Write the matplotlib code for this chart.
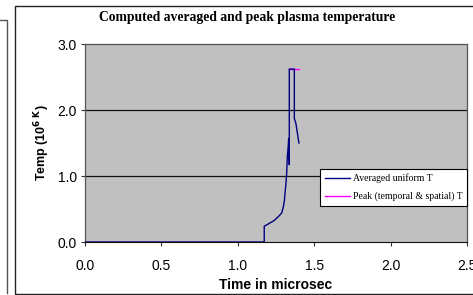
import matplotlib
matplotlib.use("Agg")
import matplotlib.pyplot as plt
from matplotlib.patches import Rectangle
from matplotlib.lines import Line2D

# averaged uniform temperature (10^6 K) vs time (microsec)
avg_time = [0.0, 1.173, 1.173, 1.19, 1.211, 1.235, 1.254, 1.272, 1.287, 1.298,
            1.305, 1.309, 1.315, 1.320, 1.324, 1.329, 1.333, 1.337, 1.337,
            1.345, 1.370, 1.370, 1.380, 1.400]
avg_temp = [0.0, 0.0, 0.24, 0.26, 0.29, 0.32, 0.36, 0.40, 0.44, 0.53,
            0.63, 0.74, 0.88, 1.04, 1.29, 1.42, 1.57, 1.17, 2.62,
            2.62, 2.62, 1.87, 1.80, 1.50]

# peak (temporal & spatial) temperature
peak_time = [1.337, 1.400]
peak_temp = [2.62, 2.62]

xticks = [0.0, 0.5, 1.0, 1.5, 2.0, 2.5]
yticks = [0.0, 1.0, 2.0, 3.0]

fig = plt.figure(figsize=(4.73, 2.95), dpi=100)
W, H = 473, 295

# outer chart frame and stray frame at the left
fig.patches.append(Rectangle((15 / W, 1 / H), 470 / W, 288 / H, transform=fig.transFigure,
                             fill=False, edgecolor="#222222", linewidth=1.0))
fig.lines.append(Line2D([0, 7 / W, 7 / W], [1 - 20 / H, 1 - 20 / H, 2 / H],
                        transform=fig.transFigure, color="#555555", linewidth=1.0))

ax = fig.add_axes([85 / W, 1 - 242 / H, 382 / W, 198 / H])
ax.set_facecolor("#c0c0c0")

for y in [1.0, 2.0]:
    ax.axhline(y, color="#111111", linewidth=0.9, zorder=1)

ax.plot(peak_time, peak_temp, color="#ff00ff", linewidth=1.0, zorder=2,
        label="Peak (temporal & spatial) T")
ax.plot(avg_time, avg_temp, color="#000080", linewidth=1.0, zorder=3,
        label="Averaged uniform T")

ax.set_xlim(0, 2.5)
ax.set_ylim(0, 3.0)
ax.set_xticks(xticks)
ax.set_yticks(yticks)
ax.set_xticklabels([f"{v:.1f}" for v in xticks], fontsize=10, family="Liberation Sans")
ax.set_yticklabels([f"{v:.1f}" for v in yticks], fontsize=10, family="Liberation Sans")
ax.tick_params(direction="out", length=3, width=0.8, color="#333333", pad=3)
ax.tick_params(axis="x", pad=9)

for side in ["top", "right", "left"]:
    ax.spines[side].set_color("#555555")
    ax.spines[side].set_linewidth(0.9)
ax.spines["bottom"].set_color("#111111")

ax.set_xlabel("Time in microsec", fontsize=10, fontweight="bold",
              family="Liberation Sans", labelpad=4)
ax.set_ylabel(r"Temp (10$^{\mathbf{6\ K}}$)", fontsize=9, fontweight="bold",
              family="Liberation Sans", labelpad=4)

fig.text(247 / W, 1 - 18 / H, "Computed averaged and peak plasma temperature",
         ha="center", va="center", fontsize=9.8, fontweight="bold",
         family="Liberation Serif")

handles, labels = ax.get_legend_handles_labels()
leg = ax.legend(handles[::-1], labels[::-1], loc="lower right",
                bbox_to_anchor=(1.0, 0.18), fancybox=False, framealpha=1,
                edgecolor="black", prop={"family": "Liberation Serif", "size": 7},
                handlelength=2.5, handletextpad=0.3, borderpad=0.5,
                labelspacing=0.9, borderaxespad=0)
leg.get_frame().set_linewidth(0.8)

fig.savefig("out.png", dpi=100)
